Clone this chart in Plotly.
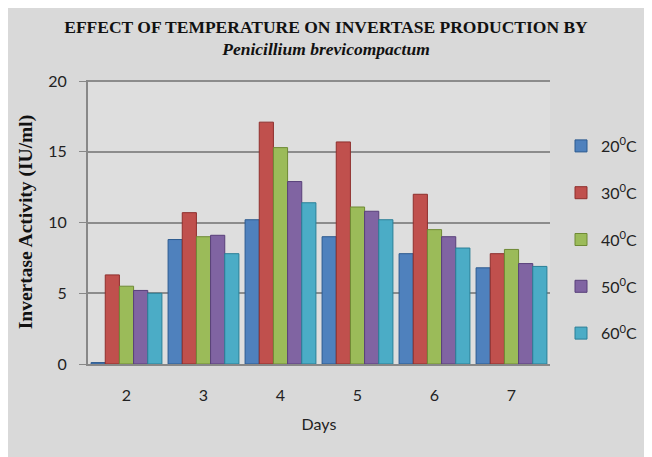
import plotly.graph_objects as go

days = ["2", "3", "4", "5", "6", "7"]
series_names = ["20<sup>0</sup>C", "30<sup>0</sup>C", "40<sup>0</sup>C", "50<sup>0</sup>C", "60<sup>0</sup>C"]
t20 = [0.1, 8.8, 10.2, 9.0, 7.8, 6.8]
t30 = [6.3, 10.7, 17.1, 15.7, 12.0, 7.8]
t40 = [5.5, 9.0, 15.3, 11.1, 9.5, 8.1]
t50 = [5.2, 9.1, 12.9, 10.8, 9.0, 7.1]
t60 = [5.0, 7.8, 11.4, 10.2, 8.2, 6.9]
values = [t20, t30, t40, t50, t60]
colors = ["#4F81BD", "#C0504D", "#9BBB59", "#8064A2", "#4BACC6"]
edges = ["#2C5A8F", "#8E2F2D", "#6E8A35", "#583F7A", "#2A7F97"]

W, H = 644, 449
L, R, T, B = 80, 102, 72, 93

fig = go.Figure()
for i, (name, vals) in enumerate(zip(series_names, values)):
    fig.add_trace(go.Bar(
        x=days, y=vals, name=name,
        marker=dict(color=colors[i], line=dict(color=edges[i], width=1)),
        legendgroup=f"g{i}",
    ))

fig.update_layout(
    width=W, height=H,
    margin=dict(l=L, r=R, t=T, b=B),
    paper_bgcolor="#d9d9d9",
    plot_bgcolor="#dedede",
    barmode="group", bargap=0.08, bargroupgap=0.0,
    title=dict(
        text="<b>EFFECT OF TEMPERATURE ON INVERTASE PRODUCTION BY</b><br><b><i>Penicillium brevicompactum</i></b>",
        x=318 / W, xref="container", xanchor="center", y=1 - 24.5 / H, yanchor="middle",
        font=dict(family="Liberation Serif", size=17.5, color="#111"),
    ),
    xaxis=dict(
        automargin=False,
        showgrid=False, showline=True, linecolor="#888", linewidth=2,
        tickfont=dict(family="Lato", size=16, color="#222"),
        ticks="", ticklabelstandoff=16,
        title=dict(text="Days", font=dict(family="Lato", size=16, color="#222"), standoff=16),
    ),
    yaxis=dict(
        automargin=False,
        range=[0, 20.08], tickvals=[0, 5, 10, 15, 20], showgrid=True, gridcolor="#8c8c8c", gridwidth=1.5,
        showline=True, linecolor="#888", linewidth=2,
        ticks="outside", ticklen=7, tickcolor="#888", ticklabelstandoff=9,
        tickfont=dict(family="Lato", size=16, color="#222"),
        zeroline=False,
        title=dict(text="<b>Invertase Activity (IU/ml)</b>",
                   font=dict(family="Liberation Serif", size=19.5, color="#111"), standoff=10),
    ),
    legend=dict(
        xref="container", yref="container",
        x=553 / W, y=1 - 121 / H, xanchor="left", yanchor="top",
        bgcolor="rgba(0,0,0,0)", font=dict(family="Lato", size=16, color="#222"),
        tracegroupgap=23, itemwidth=30,
    ),
)

fig.write_html("out.html")
